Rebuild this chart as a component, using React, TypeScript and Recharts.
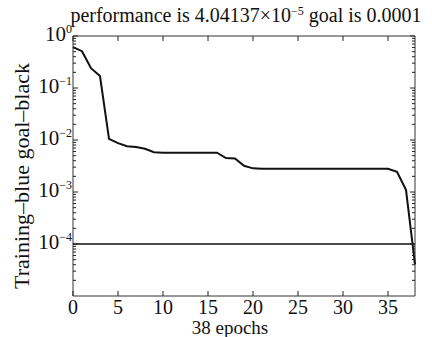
import React from 'react'
import { LineChart, Line, XAxis, YAxis, ReferenceArea } from 'recharts'

const epochs = [0,1,2,3,4,5,6,7,8,9,10,11,12,13,14,15,16,17,18,19,20,21,22,23,24,25,26,27,28,29,30,31,32,33,34,35,36,37,38]
const perf = [0.61,0.51,0.24,0.17,0.0105,0.0087,0.0076,0.0073,0.0068,0.0058,0.0057,0.0057,0.0057,0.0057,0.0057,0.0057,0.0057,0.0045,0.0044,0.0032,0.00285,0.0028,0.0028,0.0028,0.0028,0.0028,0.0028,0.0028,0.0028,0.0028,0.0028,0.0028,0.0028,0.0028,0.0028,0.0028,0.00245,0.0011,4.04137e-5]
const GOAL = 0.0001
const xTicks = [0,5,10,15,20,25,30,35]
const yMajor = [1, 0.1, 0.01, 0.001, 0.0001]
const yMinor = [2,3,4,5,6,7,8,9].flatMap(m => [1e-5,1e-4,1e-3,1e-2,1e-1].map(d => m*d))

const W = 432, H = 337
const PL = 73, PR = 415, PT = 36, PB = 296
const FONT = "'Liberation Serif', serif"
const txt = { fontFamily: FONT }

const data = epochs.map((e, i) => ({ epoch: e, perf: perf[i], goal: GOAL }))

function XTick(props: any) {
  const { x, payload } = props
  return (
    <g>
      <line x1={x} x2={x} y1={PB} y2={PB-5} stroke="#222" />
      <line x1={x} x2={x} y1={PT} y2={PT+5} stroke="#222" />
      <text x={x} y={314} textAnchor="middle" fontSize={20} style={txt} fill="#111">{payload.value}</text>
    </g>
  )
}

function YTick(props: any) {
  const { y, payload } = props
  const v = payload.value
  const exp = Math.round(Math.log10(v))
  const major = Math.abs(Math.log10(v) - exp) < 1e-6
  const len = major ? 5 : 3
  return (
    <g>
      <line x1={PL} x2={PL+len} y1={y} y2={y} stroke="#222" />
      <line x1={PR} x2={PR-len} y1={y} y2={y} stroke="#222" />
      {major && (
        <text x={72} y={y+5} textAnchor="end" style={txt} fill="#111" fontSize={21}>
          10<tspan dy={-8} fontSize={12}>{exp === 0 ? '0' : '\u2212' + Math.abs(exp)}</tspan>
        </text>
      )}
    </g>
  )
}

export default function App() {
  return (
    <div style={{ position: 'absolute', left: 0, top: 0, width: W, height: H, background: '#fff', fontFamily: FONT }}>
      <LineChart width={W} height={H} data={data} margin={{ top: PT, right: W-PR, bottom: 0, left: 0 }} style={txt}>
        <XAxis dataKey="epoch" type="number" domain={[0, 38]} ticks={xTicks} interval={0}
          height={H-PB} tickLine={false} axisLine={false} tick={<XTick />} />
        <YAxis scale="log" domain={[1e-5, 1]} allowDataOverflow ticks={[...yMajor, ...yMinor]} interval={0}
          width={PL} tickLine={false} axisLine={false} tick={<YTick />} />
        <ReferenceArea x1={0} x2={38} y1={1e-5} y2={1} fill="none" stroke="#333" strokeWidth={1} />
        <Line dataKey="goal" stroke="#111" strokeWidth={1.5} dot={false} isAnimationActive={false} />
        <Line dataKey="perf" stroke="#111" strokeWidth={2} dot={false} isAnimationActive={false} />
        <text x={246} y={22} textAnchor="middle" style={txt} fontSize={20} fill="#111">
          performance is 4.04137{'\u00d7'}10<tspan dy={-7} fontSize={12}>{'\u2212'}5</tspan><tspan dy={7}> goal is 0.0001</tspan>
        </text>
        <text x={230} y={334} textAnchor="middle" style={txt} fontSize={19} fill="#111">38 epochs</text>
        <text transform="translate(29,176) rotate(-90)" textAnchor="middle" style={txt} fontSize={22} fill="#111">Training{'\u2013'}blue goal{'\u2013'}black</text>
      </LineChart>
    </div>
  )
}
